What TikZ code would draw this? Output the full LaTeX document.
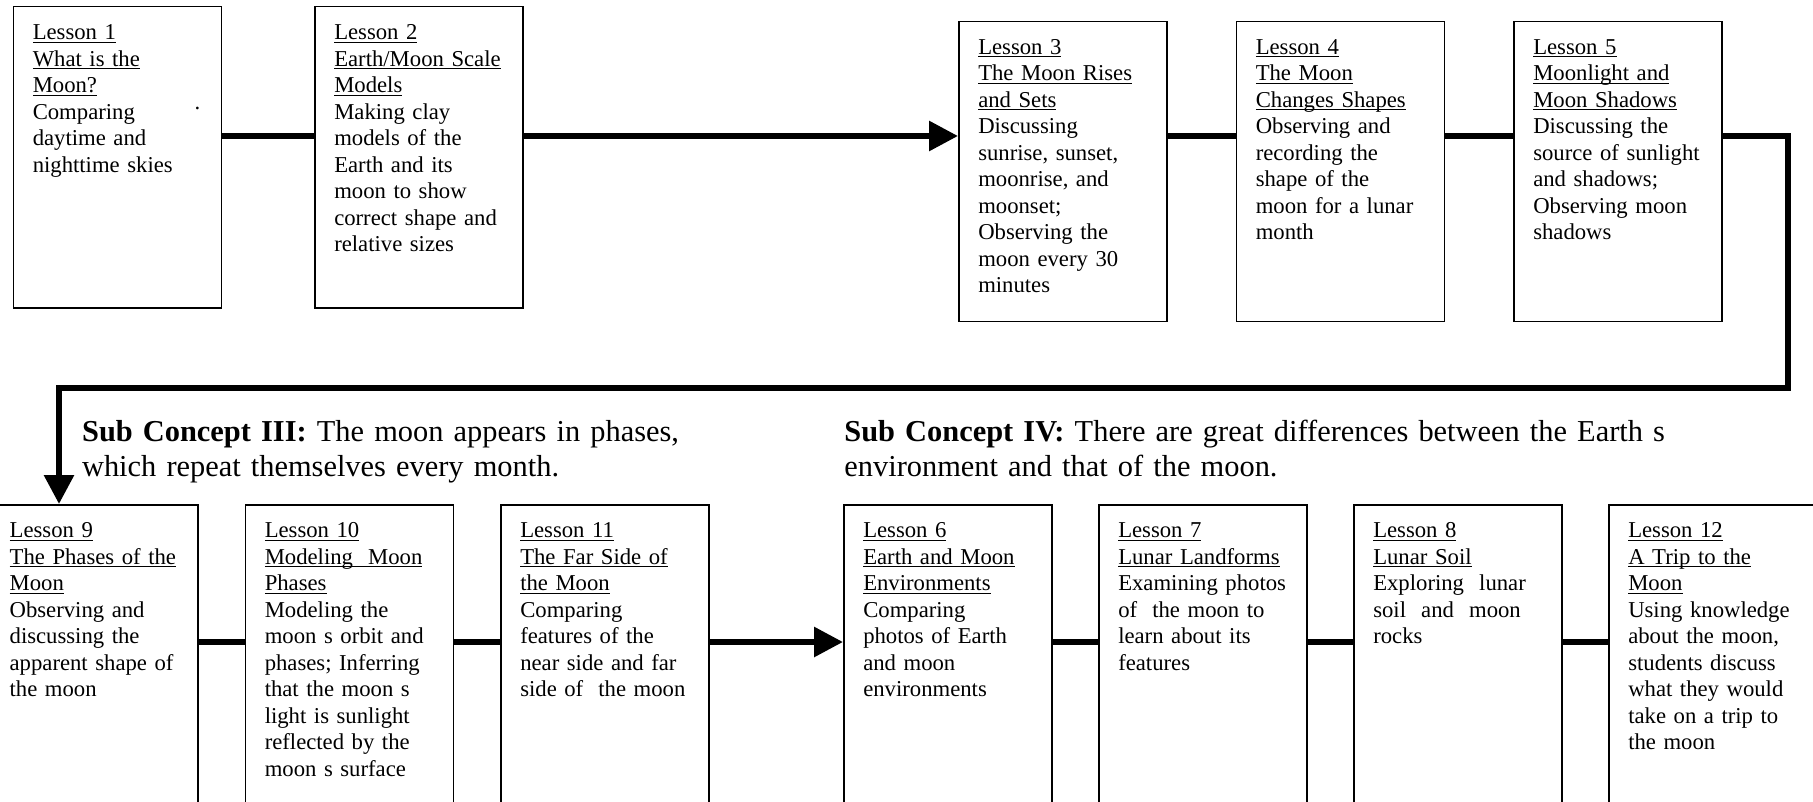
\documentclass[tikz,border=0pt]{standalone}
\usepackage{fontspec}
\setmainfont{Liberation Serif}
\usetikzlibrary{positioning,arrows.meta}
\newcommand\lessonfont{\fontsize{11.35pt}{13.25pt}\selectfont}
\newcommand\conceptfont{\fontsize{15.2pt}{17.2pt}\selectfont}
\newcommand\uln[1]{\leavevmode\setbox0=\hbox{#1}\rlap{\rule[-1.6pt]{\wd0}{0.55pt}}\box0}

\begin{document}
\begin{tikzpicture}[x=0.5pt, y=-0.5pt,
lesson/.style={draw, line width=0.75pt, text width=84.5pt, align=left,
inner xsep=9.75pt, inner ysep=4pt, text height=12.4pt, text depth=#1,
font=\lessonfont},
concept/.style={inner sep=0pt, text width=#1, align=left,
font=\conceptfont, anchor=base west},
link/.style={line width=3pt},
arrowed/.style={link, -{Triangle[length=14.5pt, width=14.5pt]}}]
\useasboundingbox (0,0) rectangle (1813,802);
\clip (0,0) rectangle (1813,802);
\coordinate (toprow) at (0,136);
\coordinate (botrow) at (0,642);
\coordinate (bendA) at (1788,136);
\coordinate (bendB) at (1788,388);
\coordinate (bendC) at (59,388);

\node[lesson=130.1pt, anchor=north west] (L1) at (12.5,6) {\uln{Lesson 1}\\ \uln{What is the}\\ \uln{Moon?}\\ Comparing\\ daytime and\\ nighttime skies};
\node[lesson=130.1pt] (L2) [right=46pt of L1] {\uln{Lesson 2}\\ \uln{Earth/Moon Scale}\\ \uln{Models}\\ Making clay\\ models of the\\ Earth and its\\ moon to show\\ correct shape and\\ relative sizes};
\node[inner sep=0pt, font=\lessonfont] (speck) at (197.5,108) {.};

\node[lesson=129.6pt, anchor=north west] (L3) at (958,20.7) {\uln{Lesson 3}\\ \uln{The Moon Rises}\\ \uln{and Sets}\\ Discussing\\ sunrise, sunset,\\ moonrise, and\\ moonset;\\ Observing the\\ moon every 30\\ minutes};
\node[lesson=129.6pt] (L4) [right=34pt of L3] {\uln{Lesson 4}\\ \uln{The Moon}\\ \uln{Changes Shapes}\\ Observing and\\ recording the\\ shape of the\\ moon for a lunar\\ month};
\node[lesson=129.6pt] (L5) [right=34pt of L4] {\uln{Lesson 5}\\ \uln{Moonlight and}\\ \uln{Moon Shadows}\\ Discussing the\\ source of sunlight\\ and shadows;\\ Observing moon\\ shadows};

\node[concept=320pt] (sc3) at (81.7,441.7) {\textbf{Sub Concept III:} The moon appears in phases,\\ which repeat themselves every month.};
\node[concept=470pt] (sc4) at (844,441.7) {\textbf{Sub Concept IV:} There are great differences between the Earth s\\ environment and that of the moon.};

\node[lesson=144.6pt, anchor=north west] (L9) at (-10.6,504) {\uln{Lesson 9}\\ \uln{The Phases of the}\\ \uln{Moon}\\ Observing and\\ discussing the\\ apparent shape of\\ the moon};
\node[lesson=144.6pt] (L10) [right=22.8pt of L9] {\uln{Lesson 10}\\ \uln{Modeling\ \ Moon}\\ \uln{Phases}\\ Modeling the\\ moon s orbit and\\ phases; Inferring\\ that the moon s\\ light is sunlight\\ reflected by the\\ moon s surface};
\node[lesson=144.6pt] (L11) [right=23pt of L10] {\uln{Lesson 11}\\ \uln{The Far Side of}\\ \uln{the Moon}\\ Comparing\\ features of the\\ near side and far\\ side of\ \ the moon};

\node[lesson=144.6pt, anchor=north west] (L6) at (843,504) {\uln{Lesson 6}\\ \uln{Earth and Moon}\\ \uln{Environments}\\ Comparing\\ photos of Earth\\ and moon\\ environments};
\node[lesson=144.6pt] (L7) [right=22.75pt of L6] {\uln{Lesson 7}\\ \uln{Lunar Landforms}\\ Examining photos\\ of\ \ the moon to\\ learn about its\\ features};
\node[lesson=144.6pt] (L8) [right=22.75pt of L7] {\uln{Lesson 8}\\ \uln{Lunar Soil}\\ Exploring\ \ lunar\\ soil\ \ and\ \ moon\\ rocks};
\node[lesson=144.6pt] (L12) [right=22.75pt of L8] {\uln{Lesson 12}\\ \uln{A Trip to the}\\ \uln{Moon}\\ Using knowledge\\ about the moon,\\ students discuss\\ what they would\\ take on a trip to\\ the moon};

\draw[link] (L1.east |- toprow) -- (L2.west |- toprow);
\draw[arrowed] (L2.east |- toprow) -- (L3.west |- toprow);
\draw[link] (L3.east |- toprow) -- (L4.west |- toprow);
\draw[link] (L4.east |- toprow) -- (L5.west |- toprow);
\draw[arrowed] (L5.east |- toprow) -- (bendA) -- (bendB) -- (bendC) -- (bendC |- L9.north);
\draw[link] (L9.east |- botrow) -- (L10.west |- botrow);
\draw[link] (L10.east |- botrow) -- (L11.west |- botrow);
\draw[arrowed] (L11.east |- botrow) -- (L6.west |- botrow);
\draw[link] (L6.east |- botrow) -- (L7.west |- botrow);
\draw[link] (L7.east |- botrow) -- (L8.west |- botrow);
\draw[link] (L8.east |- botrow) -- (L12.west |- botrow);
\end{tikzpicture}
\end{document}
